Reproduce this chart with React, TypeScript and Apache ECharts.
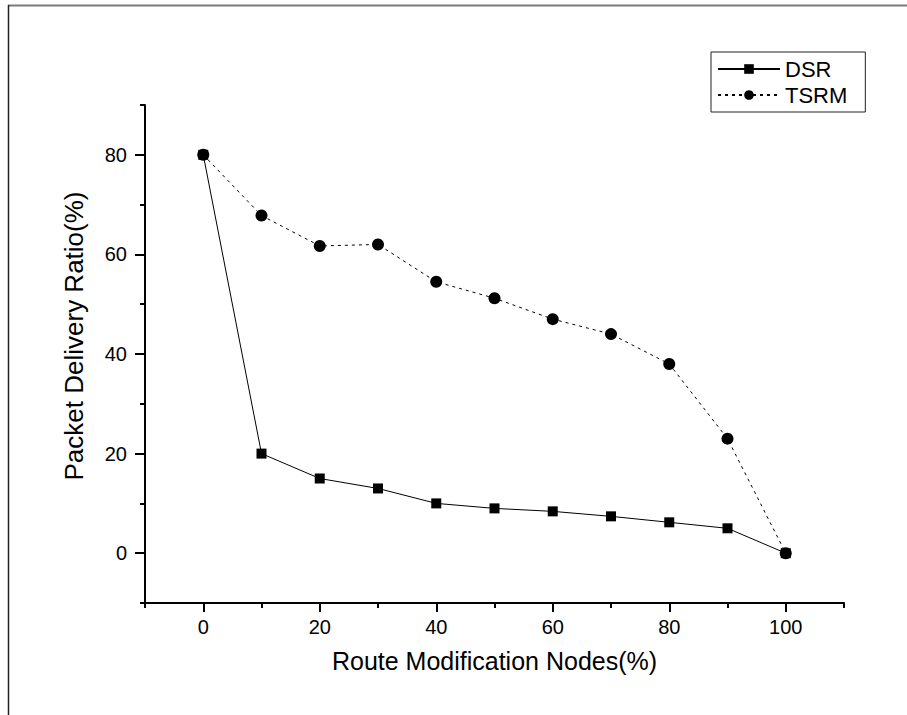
import React, { useEffect, useRef } from "react";
import * as echarts from "echarts";

const xValues = [0, 10, 20, 30, 40, 50, 60, 70, 80, 90, 100];
const dsr = [80, 20, 15, 13, 10, 9, 8.4, 7.4, 6.2, 5, 0];
const tsrm = [80, 67.8, 61.7, 62, 54.5, 51.2, 47, 44, 38, 23, 0];
const xMajorTicks = [0, 20, 40, 60, 80, 100];
const xMinorTicks = [-10, 10, 30, 50, 70, 90, 110];
const yMajorTicks = [0, 20, 40, 60, 80];
const yMinorTicks = [-10, 10, 30, 50, 70, 90];
const seriesNames = ["DSR", "TSRM"];
const xTitle = "Route Modification Nodes(%)";
const yTitle = "Packet Delivery Ratio(%)";

const FONT = '"Liberation Sans", Arial, Helvetica, sans-serif';

export default function App() {
  const ref = useRef<HTMLDivElement>(null);
  useEffect(() => {
    if (!ref.current) return;
    const chart = echarts.init(ref.current, null, { renderer: "svg" });
    const axisLine = { show: true, onZero: false, lineStyle: { color: "#000", width: 2 } };
    const hiddenLine = { show: false, onZero: false };
    const option: any = {
      animation: false,
      backgroundColor: "#fff",
      textStyle: { fontFamily: FONT },
      grid: { left: 145, top: 105, width: 699, height: 498, containLabel: false },
      graphic: [
        { type: "line", shape: { x1: 8, y1: 5.5, x2: 907, y2: 5.5 }, style: { stroke: "#7a7a7a", lineWidth: 2 } },
        { type: "line", shape: { x1: 8.5, y1: 5, x2: 8.5, y2: 715 }, style: { stroke: "#222", lineWidth: 1.5 } },
        {
          type: "text",
          x: 74,
          y: 336,
          rotation: Math.PI / 2,
          style: {
            text: yTitle,
            font: `26px ${FONT}`,
            fill: "#000",
            textAlign: "center",
            textVerticalAlign: "middle",
          },
        },
      ],
      legend: {
        orient: "vertical",
        left: 711,
        top: 52,
        data: seriesNames,
        padding: [6, 18, 6, 6],
        itemGap: 4,
        itemWidth: 62,
        itemHeight: 12,
        borderColor: "#222",
        borderWidth: 1,
        textStyle: { fontSize: 22, color: "#000", fontFamily: FONT },
      },
      xAxis: [
        {
          type: "value",
          min: -10,
          max: 110,
          position: "bottom",
          axisLine,
          splitLine: { show: false },
          axisTick: { show: true, customValues: xMajorTicks, length: 9, lineStyle: { color: "#000", width: 2 } },
          axisLabel: { customValues: xMajorTicks, margin: 14, fontSize: 20, color: "#000", fontFamily: FONT },
          name: xTitle,
          nameLocation: "middle",
          nameGap: 45,
          nameTextStyle: { fontSize: 25, color: "#000", fontFamily: FONT },
        },
        {
          type: "value",
          min: -10,
          max: 110,
          position: "bottom",
          axisLine: hiddenLine,
          splitLine: { show: false },
          axisTick: { show: true, customValues: xMinorTicks, length: 5, lineStyle: { color: "#000", width: 2 } },
          axisLabel: { show: false },
        },
      ],
      yAxis: [
        {
          type: "value",
          min: -10,
          max: 90,
          position: "left",
          axisLine,
          splitLine: { show: false },
          axisTick: { show: true, customValues: yMajorTicks, length: 10, lineStyle: { color: "#000", width: 2 } },
          axisLabel: { customValues: yMajorTicks, margin: 18, fontSize: 20, color: "#000", fontFamily: FONT },
        },
        {
          type: "value",
          min: -10,
          max: 90,
          position: "left",
          axisLine: hiddenLine,
          splitLine: { show: false },
          axisTick: { show: true, customValues: yMinorTicks, length: 5, lineStyle: { color: "#000", width: 2 } },
          axisLabel: { show: false },
        },
      ],
      series: [
        {
          name: seriesNames[0],
          type: "line",
          data: xValues.map((x, i) => [x, dsr[i]]),
          symbol: "rect",
          symbolSize: 10,
          itemStyle: { color: "#000" },
          lineStyle: { color: "#000", width: 1, type: "solid" },
          z: 3,
        },
        {
          name: seriesNames[1],
          type: "line",
          data: xValues.map((x, i) => [x, tsrm[i]]),
          symbol: "circle",
          symbolSize: 12,
          itemStyle: { color: "#000" },
          lineStyle: { color: "#000", width: 1, type: [3, 4] },
          z: 2,
        },
      ],
    };
    chart.setOption(option);
    return () => chart.dispose();
  }, []);
  return (
    <div
      ref={ref}
      style={{ position: "fixed", left: 0, top: 0, width: 907, height: 715 }}
    />
  );
}
